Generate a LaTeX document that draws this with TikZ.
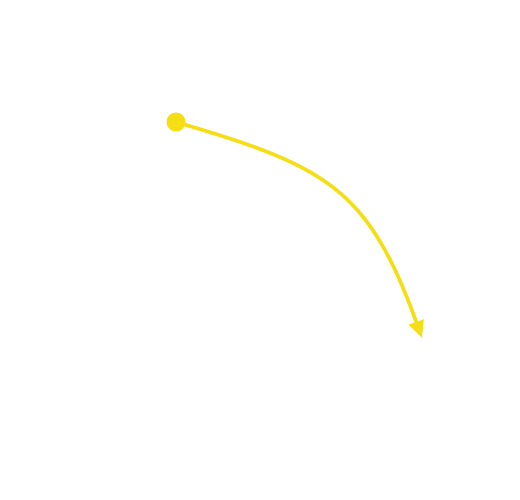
\documentclass[tikz,border=0pt]{standalone}
\usetikzlibrary{arrows.meta}
\definecolor{yel}{RGB}{246,222,20}
\tikzset{conn/.style={draw=yel,line width=3.6pt,-{Triangle[length=17pt,width=15pt]}},
dot/.style={circle,fill=yel,inner sep=0pt,minimum size=19pt}}
\begin{document}
\begin{tikzpicture}[x=1pt,y=-1pt]
\useasboundingbox (0,0) rectangle (520,500);
\node[dot] (a) at (176,122) {};
\coordinate (b) at (422,338);
\draw[conn] (a.center) .. controls (326,166) and (368,188) .. (b);
\end{tikzpicture}
\end{document}
